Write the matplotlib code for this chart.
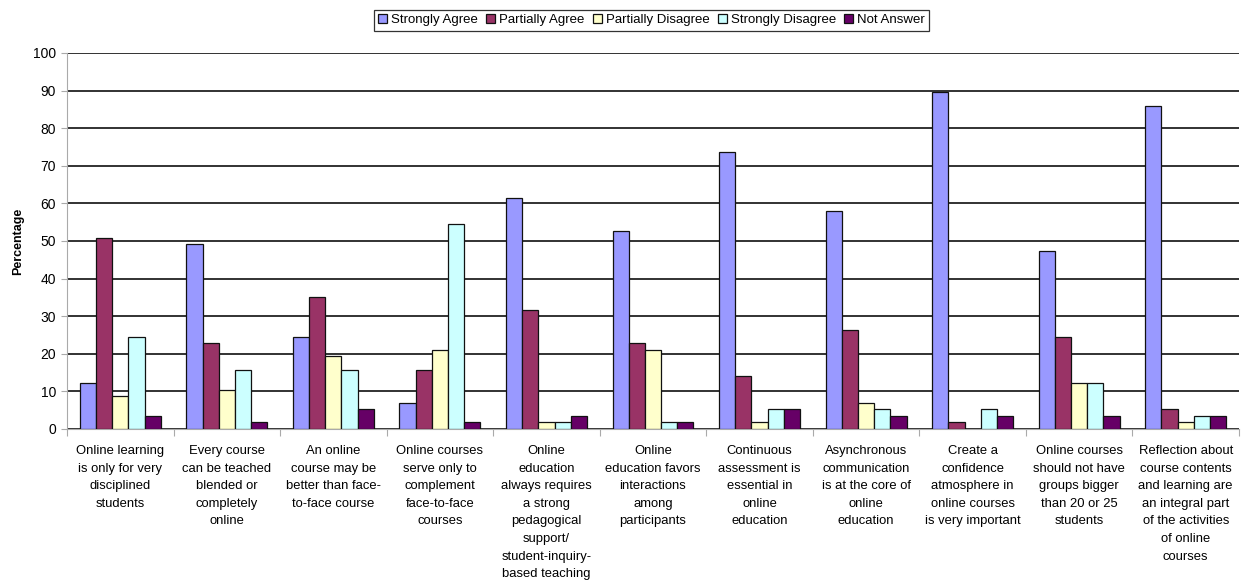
import numpy as np
import matplotlib
matplotlib.use("Agg")
from matplotlib import pyplot as plt

plt.rcParams["font.family"] = ["Liberation Sans", "DejaVu Sans"]

# data
categories = [
    "Online learning\nis only for very\ndisciplined\nstudents",
    "Every course\ncan be teached\nblended or\ncompletely\nonline",
    "An online\ncourse may be\nbetter than face-\nto-face course",
    "Online courses\nserve only to\ncomplement\nface-to-face\ncourses",
    "Online\neducation\nalways requires\na strong\npedagogical\nsupport/\nstudent-inquiry-\nbased teaching",
    "Online\neducation favors\ninteractions\namong\nparticipants",
    "Continuous\nassessment is\nessential in\nonline\neducation",
    "Asynchronous\ncommunication\nis at the core of\nonline\neducation",
    "Create a\nconfidence\natmosphere in\nonline courses\nis very important",
    "Online courses\nshould not have\ngroups bigger\nthan 20 or 25\nstudents",
    "Reflection about\ncourse contents\nand learning are\nan integral part\nof the activities\nof online\ncourses",
]
series_names = ["Strongly Agree", "Partially Agree", "Partially Disagree",
                "Strongly Disagree", "Not Answer"]
strongly_agree = [12.3, 49.1, 24.5, 7.0, 61.4, 52.6, 73.7, 57.9, 89.5, 47.4, 86.0]
partially_agree = [50.9, 22.8, 35.1, 15.8, 31.6, 22.8, 14.0, 26.3, 1.8, 24.6, 5.3]
partially_disagree = [8.8, 10.5, 19.3, 21.1, 1.8, 21.1, 1.8, 7.0, 0.0, 12.3, 1.8]
strongly_disagree = [24.6, 15.8, 15.8, 54.4, 1.8, 1.8, 5.3, 5.3, 5.3, 12.3, 3.5]
not_answer = [3.5, 1.8, 5.3, 1.8, 3.5, 1.8, 5.3, 3.5, 3.5, 3.5, 3.5]
colors = ["#9999FF", "#993366", "#FFFFCC", "#CCFFFF", "#660066"]

values = [strongly_agree, partially_agree, partially_disagree, strongly_disagree, not_answer]

fig = plt.figure(figsize=(12.41, 5.85), dpi=100)
ax = fig.add_axes([67 / 1241, 1 - 429 / 585, (1239 - 67) / 1241, (429 - 53) / 585])

x = np.arange(len(categories))
width = 0.152
for i, (name, vals, col) in enumerate(zip(series_names, values, colors)):
    ax.bar(x + (i - 2) * width, vals, width, color=col, edgecolor="#111111",
           linewidth=0.9, label=name, zorder=3)

ax.set_xlim(-0.5, len(categories) - 0.5)
ax.set_ylim(0, 100)
ax.set_yticks(np.arange(0, 101, 10))
ax.yaxis.grid(True, color="#222222", linewidth=1.3, zorder=0)
ax.set_axisbelow(True)
ax.tick_params(axis="y", length=4, color="#aaaaaa", labelsize=10, pad=4)
ax.set_ylabel("Percentage", fontsize=9, fontweight="bold", labelpad=6)

ax.set_xticks(np.arange(-0.5, len(categories), 1.0))
ax.set_xticklabels([])
ax.tick_params(axis="x", length=5, color="#aaaaaa")
for xi, label in zip(x, categories):
    ax.text(xi, -4.3, label, ha="center", va="top", fontsize=9.4,
            linespacing=1.62, transform=ax.transData)

for side in ["top", "right"]:
    ax.spines[side].set_visible(False)
ax.spines["left"].set_color("#aaaaaa")
ax.spines["bottom"].set_color("#aaaaaa")

leg = fig.legend(loc="upper center", bbox_to_anchor=(0.525, 0.995), ncol=5,
                 fontsize=9.5, frameon=True, fancybox=False, edgecolor="black",
                 handlelength=0.7, handleheight=0.7, handletextpad=0.3,
                 columnspacing=0.6, borderpad=0.35)
leg.get_frame().set_linewidth(0.9)

fig.savefig("out.png", dpi=100)
